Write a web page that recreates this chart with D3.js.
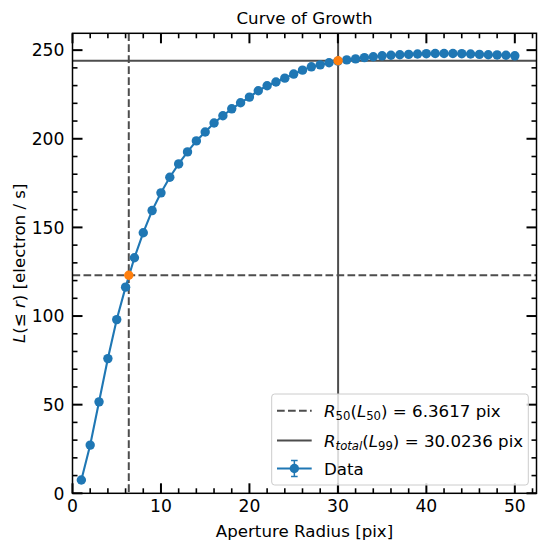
<!DOCTYPE html>
<html><head><meta charset="utf-8">
<script src="https://cdn.jsdelivr.net/npm/d3@7"></script>
<style>body{margin:0;background:#fff}svg text{font-family:"DejaVu Sans",sans-serif}</style>
</head><body><svg id="c" width="546" height="550"></svg>
<script>
const radii = d3.range(1, 51);
const flux = [7.5, 27.2, 51.6, 76.0, 98.0, 116.3, 132.9, 147.0, 159.5, 169.5,
  178.3, 185.8, 192.6, 198.8, 203.8, 208.9, 213.0, 216.9, 220.3, 223.5,
  227.1, 229.9, 232.0, 234.2, 236.5, 238.7, 240.6, 241.7, 242.9, 243.8,
  244.5, 245.1, 245.8, 246.3, 246.8, 247.1, 247.4, 247.6, 247.8, 248.0,
  248.1, 248.1, 248.1, 248.0, 247.8, 247.6, 247.4, 247.3, 247.1, 246.8];
const r50 = 6.3617, l50 = 123.0;
const rTotal = 30.0236, l99 = 244.0;
const xMajor = [0, 10, 20, 30, 40, 50];
const yMajor = [0, 50, 100, 150, 200, 250];
const title = "Curve of Growth";
const xLabel = "Aperture Radius [pix]";

const L = 72.5, R = 536.5, T = 33.3, B = 493.3;
const x = d3.scaleLinear().domain([0, 52.45]).range([L, R]);
const y = d3.scaleLinear().domain([0, 259.5]).range([B, T]);
const svg = d3.select("#c");
const FS = 16.67, TFS = 17.2;
const blue = "#1f77b4", orange = "#ff7f0e", refc = "#4d4d4d";

// reference lines
const g = svg.append("g");
g.append("line").attr("x1", x(r50)).attr("x2", x(r50)).attr("y1", T).attr("y2", B)
  .attr("stroke", refc).attr("stroke-width", 2).attr("stroke-dasharray", "7.7,3.3");
g.append("line").attr("x1", L).attr("x2", R).attr("y1", y(l50)).attr("y2", y(l50))
  .attr("stroke", refc).attr("stroke-width", 2).attr("stroke-dasharray", "7.7,3.3");
g.append("line").attr("x1", x(rTotal)).attr("x2", x(rTotal)).attr("y1", T).attr("y2", B)
  .attr("stroke", refc).attr("stroke-width", 2);
g.append("line").attr("x1", L).attr("x2", R).attr("y1", y(l99)).attr("y2", y(l99))
  .attr("stroke", refc).attr("stroke-width", 2);

// data
const pts = radii.map((r, i) => [r, flux[i]]);
g.append("path").datum(pts)
  .attr("d", d3.line().x(d => x(d[0])).y(d => y(d[1])))
  .attr("fill", "none").attr("stroke", blue).attr("stroke-width", 2.1);
g.selectAll("circle.d").data(pts).join("circle").attr("class", "d")
  .attr("cx", d => x(d[0])).attr("cy", d => y(d[1])).attr("r", 4.7).attr("fill", blue);
g.selectAll("circle.o").data([[r50, l50], [rTotal, l99]]).join("circle").attr("class", "o")
  .attr("cx", d => x(d[0])).attr("cy", d => y(d[1])).attr("r", 4.7).attr("fill", orange);

// axes: inward ticks on all sides
function ticks(vals, len, w) {
  vals.forEach(v => {
    if (v < x.domain()[0] || v > x.domain()[1]) return;
    svg.append("line").attr("x1", x(v)).attr("x2", x(v)).attr("y1", B).attr("y2", B - len).attr("stroke", "#000").attr("stroke-width", w);
    svg.append("line").attr("x1", x(v)).attr("x2", x(v)).attr("y1", T).attr("y2", T + len).attr("stroke", "#000").attr("stroke-width", w);
  });
}
function yticks(vals, len, w) {
  vals.forEach(v => {
    if (v > y.domain()[1]) return;
    svg.append("line").attr("y1", y(v)).attr("y2", y(v)).attr("x1", L).attr("x2", L + len).attr("stroke", "#000").attr("stroke-width", w);
    svg.append("line").attr("y1", y(v)).attr("y2", y(v)).attr("x1", R).attr("x2", R - len).attr("stroke", "#000").attr("stroke-width", w);
  });
}
ticks(d3.range(0, 53, 2).filter(v => v % 10 !== 0), 5, 1.6);
ticks(xMajor, 10, 2);
yticks(d3.range(0, 260, 10).filter(v => v % 50 !== 0), 5, 1.6);
yticks(yMajor, 10, 2);
svg.append("rect").attr("x", L).attr("y", T).attr("width", R - L).attr("height", B - T)
  .attr("fill", "none").attr("stroke", "#000").attr("stroke-width", 1.5);

svg.selectAll("text.xt").data(xMajor).join("text").attr("class", "xt")
  .attr("x", d => x(d)).attr("y", 512).attr("text-anchor", "middle").attr("font-size", TFS).text(d => d);
svg.selectAll("text.yt").data(yMajor).join("text").attr("class", "yt")
  .attr("x", 64.5).attr("y", d => y(d) + 6.2).attr("text-anchor", "end").attr("font-size", TFS).text(d => d);

svg.append("text").attr("x", (L + R) / 2).attr("y", 24).attr("text-anchor", "middle").attr("font-size", FS).text(title);
svg.append("text").attr("x", (L + R) / 2).attr("y", 537).attr("text-anchor", "middle").attr("font-size", FS).text(xLabel);

const yl = svg.append("text").attr("transform", `translate(25,${(T + B) / 2}) rotate(-90)`)
  .attr("text-anchor", "middle").attr("font-size", FS);
yl.append("tspan").attr("font-style", "italic").text("L");
yl.append("tspan").text("(\u2264 ");
yl.append("tspan").attr("font-style", "italic").text("r");
yl.append("tspan").text(") [electron / s]");

// legend
const lg = svg.append("g");
lg.append("rect").attr("x", 271.7).attr("y", 394).attr("width", 256.6).attr("height", 91).attr("rx", 3)
  .attr("fill", "#fff").attr("fill-opacity", 0.8).attr("stroke", "#cccccc").attr("stroke-width", 1);
const rows = [410.7, 440.5, 468.5];
lg.append("line").attr("x1", 277).attr("x2", 311.7).attr("y1", rows[0]).attr("y2", rows[0])
  .attr("stroke", refc).attr("stroke-width", 2).attr("stroke-dasharray", "7.7,3.3");
lg.append("line").attr("x1", 277).attr("x2", 311.7).attr("y1", rows[1]).attr("y2", rows[1])
  .attr("stroke", refc).attr("stroke-width", 2);
lg.append("line").attr("x1", 277).attr("x2", 311.7).attr("y1", rows[2]).attr("y2", rows[2])
  .attr("stroke", blue).attr("stroke-width", 2.1);
const cx = (277 + 311.7) / 2;
lg.append("line").attr("x1", cx).attr("x2", cx).attr("y1", rows[2] - 8).attr("y2", rows[2] + 8).attr("stroke", blue).attr("stroke-width", 1.5);
[-8, 8].forEach(o => lg.append("line").attr("x1", cx - 3.3).attr("x2", cx + 3.3).attr("y1", rows[2] + o).attr("y2", rows[2] + o).attr("stroke", blue).attr("stroke-width", 1.5));
lg.append("circle").attr("cx", cx).attr("cy", rows[2]).attr("r", 4.7).attr("fill", blue);

function mathLabel(yPos, parts) {
  const t = lg.append("text").attr("x", 324).attr("y", yPos).attr("font-size", FS);
  let shift = 0;
  parts.forEach(p => {
    const target = p.sub ? 3.5 : 0;
    const ts = t.append("tspan").attr("dy", target - shift).text(p.t);
    shift = target;
    if (p.sub) ts.attr("font-size", FS * 0.7);
    if (p.it) ts.attr("font-style", "italic");
  });
}
mathLabel(rows[0] + 6, [{t: "R", it: 1}, {t: "50", sub: 1}, {t: "("}, {t: "L", it: 1}, {t: "50", sub: 1}, {t: ") = 6.3617 pix"}]);
mathLabel(rows[1] + 6, [{t: "R", it: 1}, {t: "total", sub: 1, it: 1}, {t: "("}, {t: "L", it: 1}, {t: "99", sub: 1}, {t: ") = 30.0236 pix"}]);
lg.append("text").attr("x", 324).attr("y", rows[2] + 6).attr("font-size", FS).text("Data");
</script></body></html>
